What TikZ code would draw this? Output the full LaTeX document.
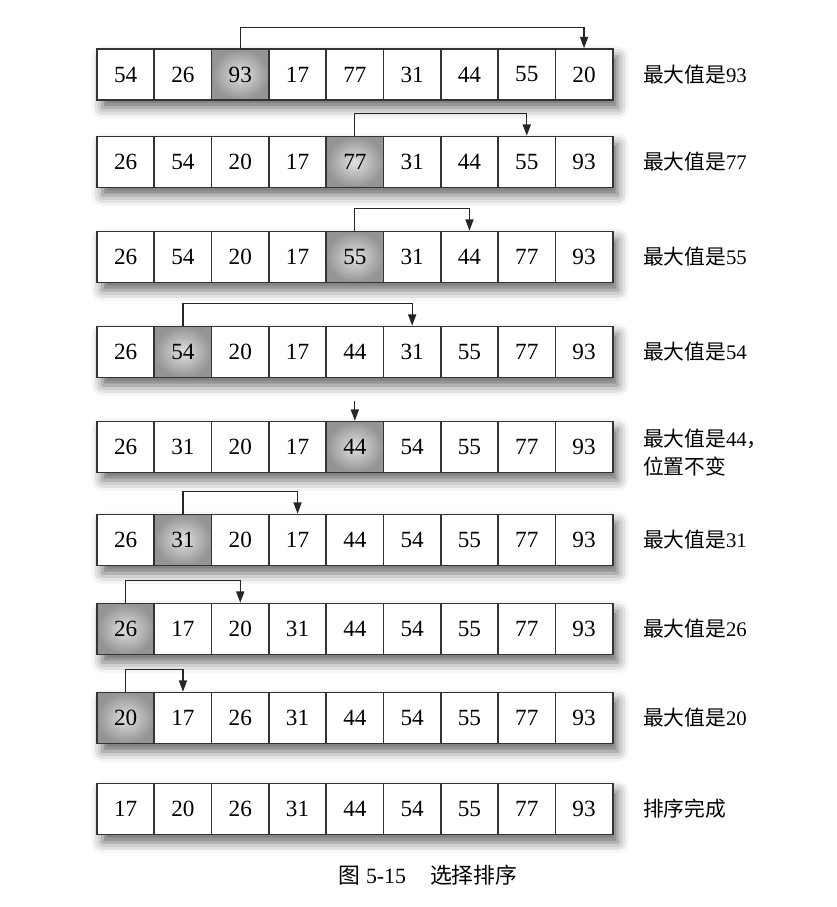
\documentclass[tikz,border=0pt]{standalone}
\usepackage{fontspec}
\setmainfont{Liberation Serif}
\newfontfamily\cjk{Noto Sans CJK SC}
\usetikzlibrary{arrows.meta,shadows.blur}

\begin{document}
\begin{tikzpicture}[
        x=0.01cm, y=-0.01cm,
        font=\fontsize{6.6}{8}\selectfont
    ]
    \tikzset{
        cellbox/.style = {rectangle, draw=black!80, line width=0.45pt, fill=white, minimum width=0.573cm, minimum height=0.51cm, inner sep=0pt},
        hlbox/.style = {cellbox, inner color=black!12, outer color=black!42},
        rowback/.style = {fill=white, blur shadow={shadow xshift=1.5pt, shadow yshift=-2.2pt, shadow blur radius=3pt, shadow opacity=60}},
        swaparrow/.style = {draw=black!85, line width=0.35pt, -{Triangle[length=3.2pt,width=2.3pt]}},
        maxlabel/.style = {anchor=west, align=left, inner sep=0pt, font=\fontsize{5.9}{8}\selectfont},
    }
    \useasboundingbox (0,0) rectangle (836,907);
    % rows of the list, the highlighted cell holds the maximum
    \foreach \row/\yy/\vals/\hl in {
        1/74.5/{54,26,93,17,77,31,44,55,20}/3,
        2/162/{26,54,20,17,77,31,44,55,93}/5,
        3/257/{26,54,20,17,55,31,44,77,93}/5,
        4/352/{26,54,20,17,44,31,55,77,93}/2,
        5/447/{26,31,20,17,44,54,55,77,93}/5,
        6/540/{26,31,20,17,44,54,55,77,93}/2,
        7/629/{26,17,20,31,44,54,55,77,93}/1,
        8/718/{20,17,26,31,44,54,55,77,93}/1,
        9/809/{17,20,26,31,44,54,55,77,93}/0}
    {
        \path[rowback] (97,\yy-25.5) rectangle (612.7,\yy+25.5);
        \foreach \v [count=\c] in \vals {
            \ifnum\c=\hl \def\sty{hlbox}\else\def\sty{cellbox}\fi
            \node[\sty] (r\row c\c) at (125.65+57.3*\c-57.3,\yy) {\v};
        }
    }
    % labels
    \foreach \row/\m in {1/93,2/77,3/55,4/54,6/31,7/26,8/20}
        \node[maxlabel] (lab\row) at ([xshift=8.2pt]r\row c9.east) {{\cjk 最大值是}\m};
    \node[maxlabel] (lab5) at ([xshift=8.2pt,yshift=-1.5pt]r5c9.east) {{\cjk 最大值是}44{\cjk ，}\\{\cjk 位置不变}};
    \node[maxlabel] (lab9) at ([xshift=8.2pt]r9c9.east) {\cjk 排序完成};
    % swaps
    \draw[swaparrow] (r1c3.north) -- ++(0,-21) -| (r1c9.north);
    \draw[swaparrow] (r2c5.north) -- ++(0,-22) -| (r2c8.north);
    \draw[swaparrow] (r3c5.north) -- ++(0,-22) -| (r3c7.north);
    \draw[swaparrow] (r4c2.north) -- ++(0,-22) -| (r4c6.north);
    \coordinate (in5) at ([yshift=5.7pt]r5c5.north);
    \draw[swaparrow] (in5) -- (r5c5.north);
    \draw[swaparrow] (r6c2.north) -- ++(0,-22) -| (r6c4.north);
    \draw[swaparrow] (r7c1.north) -- ++(0,-22) -| (r7c3.north);
    \draw[swaparrow] (r8c1.north) -- ++(0,-22) -| (r8c2.north);
    \node[font=\fontsize{6.2}{8}\selectfont] (caption) at (428,875) {{\cjk 图} 5-15\hspace{1.1em}{\cjk 选择排序}};
\end{tikzpicture}
\end{document}
